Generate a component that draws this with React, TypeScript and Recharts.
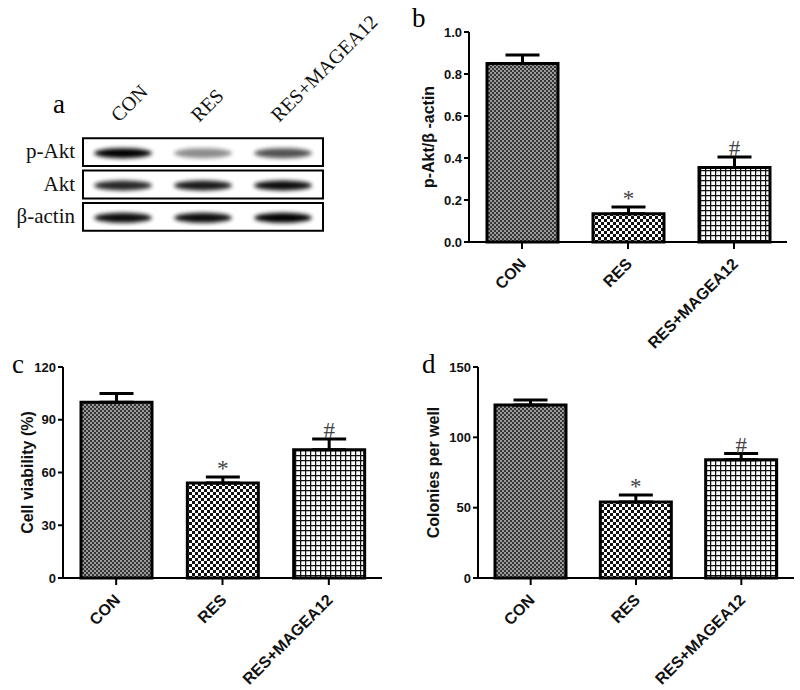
import React from 'react'
import {
  BarChart, Bar, Cell, XAxis, YAxis, ErrorBar, LabelList,
  ScatterChart, Scatter, ReferenceArea,
} from 'recharts'

// groups shared by all panels
const groups = ['CON', 'RES', 'RES+MAGEA12']
const marks = ['', '*', '#']

// panel a - western blot band intensities (0..1)
const blotRows = ['p-Akt', 'Akt', 'β-actin']
const pAktBand = [1.0, 0.45, 0.68]
const aktBand = [0.85, 0.9, 0.95]
const actinBand = [0.95, 0.95, 1.0]

// panel b
const pAktRatio = [0.85, 0.135, 0.355]
const pAktErr = [0.04, 0.032, 0.05]
const pAktTicks = [0, 0.2, 0.4, 0.6, 0.8, 1.0]

// panel c
const viability = [100, 54, 73]
const viabilityErr = [5, 3.5, 6]
const viabilityTicks = [0, 30, 60, 90, 120]

// panel d
const colonies = [123, 54, 84]
const coloniesErr = [3.5, 5, 4.5]
const coloniesTicks = [0, 50, 100, 150]

const SANS = '"Liberation Sans", Arial, sans-serif'
const SERIF = '"Liberation Serif", "Times New Roman", serif'
const fills = ['url(#pCon)', 'url(#pRes)', 'url(#pMag)']

const buildData = (vals: number[], errs: number[]) =>
  groups.map((g, i) => ({
    name: g,
    value: vals[i],
    err: [0, errs[i]],
    gap: errs[i],
    mark: marks[i],
  }))

const XTick = ({ x, y, payload }: any) => (
  <text
    x={x + 5}
    y={y + 14}
    transform={`rotate(-45 ${x + 5} ${y + 14})`}
    textAnchor="end"
    fontFamily={SANS}
    fontWeight="bold"
    fontSize={16}
    fill="#111"
  >
    {payload.value}
  </text>
)

const Patterns = () => (
  <defs>
    <pattern id="pCon" width="4" height="4" patternUnits="userSpaceOnUse">
      <rect width="4" height="4" fill="#9a9a9a" />
      <rect width="2" height="2" fill="#363636" />
      <rect x="2" y="2" width="2" height="2" fill="#363636" />
    </pattern>
    <pattern id="pRes" width="6" height="6" patternUnits="userSpaceOnUse">
      <rect width="6" height="6" fill="#111" />
      <rect width="3" height="3" fill="#fff" />
      <rect x="3" y="3" width="3" height="3" fill="#fff" />
    </pattern>
    <pattern id="pMag" width="5" height="5" patternUnits="userSpaceOnUse">
      <rect width="5" height="5" fill="#fff" />
      <path d="M0 0.6H5M0.6 0V5" stroke="#111" strokeWidth="1.3" />
    </pattern>
  </defs>
)

interface PanelProps {
  vals: number[]
  errs: number[]
  ticks: number[]
  digits: number
  ylabel: string
  letter: string
  letterX: number
  letterY: number
  labelX: number
  yWidth: number
  right: number
  top: number
  plotH: number
  height: number
}

function BarPanel(p: PanelProps) {
  const data = buildData(p.vals, p.errs)
  const cy = p.top + p.plotH / 2
  return (
    <BarChart
      width={400}
      height={p.height}
      data={data}
      margin={{ top: p.top, right: p.right, left: 0, bottom: 0 }}
    >
      <Patterns />
      <XAxis
        dataKey="name"
        interval={0}
        height={p.height - p.top - p.plotH}
        tick={<XTick />}
        tickSize={7}
        axisLine={{ stroke: '#000', strokeWidth: 2 }}
        tickLine={{ stroke: '#000', strokeWidth: 2 }}
      />
      <YAxis
        width={p.yWidth}
        domain={[0, p.ticks[p.ticks.length - 1]]}
        ticks={p.ticks}
        tickFormatter={(v: number) => v.toFixed(p.digits)}
        tickSize={5}
        tickMargin={2}
        tick={{ fontFamily: SANS, fontWeight: 'bold', fontSize: 13, fill: '#111' }}
        axisLine={{ stroke: '#000', strokeWidth: 2 }}
        tickLine={{ stroke: '#000', strokeWidth: 2 }}
      />
      <Bar dataKey="value" stackId="s" barSize={71} stroke="#000" strokeWidth={3} isAnimationActive={false}>
        {data.map((d, i) => (
          <Cell key={d.name} fill={fills[i]} />
        ))}
        <ErrorBar dataKey="err" width={17} stroke="#000" strokeWidth={3} />
      </Bar>
      <Bar dataKey="gap" stackId="s" barSize={71} fill="none" stroke="none" isAnimationActive={false}>
        <LabelList
          dataKey="mark"
          position="top"
          offset={1}
          style={{ fontFamily: SERIF, fontSize: 23, fill: '#444' }}
        />
      </Bar>
      <text
        x={p.labelX}
        y={cy}
        transform={`rotate(-90 ${p.labelX} ${cy})`}
        textAnchor="middle"
        dominantBaseline="central"
        fontFamily={SANS}
        fontWeight="bold"
        fontSize={16}
        fill="#111"
      >
        {p.ylabel}
      </text>
      <text x={p.letterX} y={p.letterY} fontFamily={SERIF} fontSize={27} fill="#000">
        {p.letter}
      </text>
    </BarChart>
  )
}

// blot bands as points: lane on x, row on y
const blotData = [pAktBand, aktBand, actinBand].flatMap((arr, r) =>
  arr.map((v, i) => ({ lane: i + 0.5, row: 2.5 - r, intensity: v }))
)

const Band = (props: any) => {
  const { cx, cy, payload } = props
  return (
    <ellipse
      cx={cx}
      cy={cy + 1}
      rx={29}
      ry={5}
      fill="#000"
      opacity={payload.intensity}
      filter="url(#bandBlur)"
    />
  )
}

const LaneTick = ({ x, y, index }: any) => (
  <text
    x={x - 4}
    y={y - 5}
    transform={`rotate(-45 ${x - 4} ${y - 5})`}
    fontFamily={SERIF}
    fontSize={20}
    fill="#111"
  >
    {groups[index]}
  </text>
)

const RowTick = ({ x, y, index }: any) => (
  <text x={x} y={y} dy="0.3em" textAnchor="end" fontFamily={SERIF} fontSize={21} fill="#111">
    {blotRows[2 - index]}
  </text>
)

function BlotPanel() {
  return (
    <ScatterChart width={400} height={240} margin={{ top: 0, right: 77, left: 0, bottom: 7 }}>
      <defs>
        <filter id="bandBlur" x="-30%" y="-100%" width="160%" height="300%">
          <feGaussianBlur stdDeviation="2.2" />
        </filter>
      </defs>
      <XAxis
        type="number"
        dataKey="lane"
        orientation="top"
        domain={[0, 3]}
        ticks={[0.5, 1.5, 2.5]}
        height={136}
        axisLine={false}
        tickLine={false}
        tick={<LaneTick />}
      />
      <YAxis
        type="number"
        dataKey="row"
        domain={[0, 3]}
        ticks={[0.5, 1.5, 2.5]}
        width={83}
        axisLine={false}
        tickLine={false}
        tick={<RowTick />}
      />
      {[2.5, 1.5, 0.5].map((r) => (
        <ReferenceArea key={r} x1={0} x2={3} y1={r - 0.43} y2={r + 0.43} fill="none" stroke="#000" strokeWidth={2} />
      ))}
      <Scatter data={blotData} shape={<Band />} isAnimationActive={false} />
      <text x={53} y={113} fontFamily={SERIF} fontSize={27} fill="#000">a</text>
    </ScatterChart>
  )
}

export default function App() {
  return (
    <div style={{ position: 'absolute', left: 0, top: 0, width: 800, height: 690, background: '#fff' }}>
      <div style={{ position: 'absolute', left: 0, top: 0 }}>
        <BlotPanel />
      </div>
      <div style={{ position: 'absolute', left: 400, top: 0 }}>
        <BarPanel
          vals={pAktRatio} errs={pAktErr} ticks={pAktTicks} digits={1}
          ylabel="p-Akt/β -actin" letter="b" letterX={12} letterY={27} labelX={28}
          yWidth={69} right={13} top={32} plotH={210} height={360}
        />
      </div>
      <div style={{ position: 'absolute', left: 0, top: 330 }}>
        <BarPanel
          vals={viability} errs={viabilityErr} ticks={viabilityTicks} digits={0}
          ylabel="Cell viability (%)" letter="c" letterX={12} letterY={43} labelX={27}
          yWidth={63} right={18} top={37} plotH={211} height={360}
        />
      </div>
      <div style={{ position: 'absolute', left: 400, top: 330 }}>
        <BarPanel
          vals={colonies} errs={coloniesErr} ticks={coloniesTicks} digits={0}
          ylabel="Colonies per well" letter="d" letterX={22} letterY={43} labelX={33}
          yWidth={78} right={6} top={37} plotH={211} height={360}
        />
      </div>
    </div>
  )
}
